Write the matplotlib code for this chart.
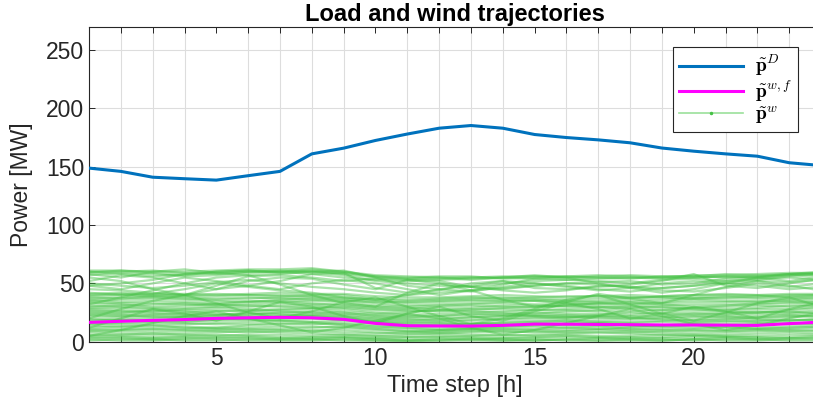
import numpy as np
import matplotlib
matplotlib.use("Agg")
import matplotlib.pyplot as plt
from matplotlib.lines import Line2D

plt.rcParams["font.family"] = ["Liberation Sans", "DejaVu Sans"]
plt.rcParams["mathtext.fontset"] = "cm"

# ---------- DATA ----------
hours = list(range(1, 25))

load = [148.8, 146, 141, 139.7, 138.5, 142.3, 146, 161, 165.9, 172.5, 178, 183,
        185.3, 183, 177.6, 175, 173, 170.5, 166, 163.3, 161, 159, 153.4, 151]

wind_forecast = [16.6, 17.5, 18.3, 19, 20, 20.5, 20.9, 20.5, 19.2, 15.7, 13.7, 13.5,
                 13.4, 14, 15.1, 15, 14.8, 14.6, 14.4, 14.3, 14.2, 14, 15.5, 16.8]

# wind scenarios (approximate)
wind_scenarios = [
    [61, 61, 60, 60, 61, 62, 62, 63, 60, 57, 56, 55, 55, 56, 56, 56, 55, 55, 55, 55, 56, 56, 57, 58],
    [60, 58, 56, 58, 59, 60, 60, 61, 58, 55, 54, 54, 55, 55, 56, 55, 55, 54, 56, 56, 55, 56, 58, 58],
    [58, 55, 60, 62, 59, 57, 58, 60, 57, 52, 50, 48, 47, 50, 52, 53, 52, 50, 53, 54, 52, 53, 56, 57],
    [55, 52, 45, 40, 48, 56, 57, 55, 52, 54, 53, 52, 47, 45, 48, 50, 51, 52, 49, 50, 54, 55, 52, 56],
    [52, 57, 55, 50, 45, 48, 52, 58, 59, 46, 42, 44, 50, 52, 46, 45, 47, 49, 52, 58, 48, 46, 50, 54],
    [48, 50, 53, 58, 60, 61, 59, 60, 61, 55, 48, 45, 43, 47, 50, 48, 45, 43, 46, 48, 52, 54, 55, 53],
    [45, 44, 42, 40, 45, 52, 55, 54, 49, 45, 53, 50, 47, 44, 42, 44, 48, 47, 44, 43, 46, 50, 47, 50],
    [42, 40, 41, 45, 50, 47, 44, 42, 38, 36, 40, 45, 48, 52, 50, 47, 44, 46, 50, 52, 50, 48, 45, 47],
    [40, 41, 40, 40, 41, 40, 39, 40, 40, 37, 36, 37, 38, 37, 38, 39, 39, 38, 38, 37, 38, 39, 40, 40],
    [38, 37, 39, 38, 37, 38, 37, 36, 35, 34, 34, 35, 36, 36, 35, 34, 35, 37, 39, 40, 41, 40, 38, 39],
    [35, 36, 37, 36, 35, 34, 36, 37, 36, 33, 31, 32, 33, 34, 35, 33, 32, 33, 34, 36, 35, 34, 36, 37],
    [33, 32, 30, 31, 32, 34, 35, 33, 31, 29, 28, 30, 31, 30, 29, 31, 33, 34, 32, 30, 31, 33, 34, 33],
    [30, 31, 32, 33, 32, 31, 30, 29, 30, 28, 27, 26, 27, 29, 30, 31, 30, 28, 27, 29, 30, 31, 30, 31],
    [28, 27, 26, 28, 29, 28, 27, 28, 26, 24, 25, 27, 26, 25, 24, 26, 27, 29, 30, 28, 26, 25, 27, 29],
    [26, 25, 27, 26, 24, 23, 25, 26, 25, 22, 21, 22, 23, 24, 22, 21, 23, 25, 24, 23, 24, 25, 26, 24],
    [24, 23, 22, 21, 22, 24, 23, 22, 21, 19, 18, 19, 21, 22, 23, 22, 20, 19, 20, 21, 22, 20, 21, 23],
    [22, 21, 23, 24, 23, 22, 21, 20, 19, 17, 16, 17, 18, 19, 20, 21, 22, 21, 19, 18, 19, 21, 22, 21],
    [20, 19, 18, 17, 19, 20, 21, 22, 20, 18, 17, 16, 15, 17, 18, 19, 18, 17, 18, 19, 20, 19, 18, 20],
    [18, 19, 20, 21, 20, 19, 18, 17, 18, 16, 14, 15, 16, 15, 16, 17, 16, 15, 14, 16, 17, 18, 19, 18],
    [16, 15, 14, 15, 16, 17, 18, 17, 15, 13, 12, 11, 12, 13, 14, 15, 16, 14, 13, 12, 13, 15, 16, 15],
    [14, 13, 12, 13, 12, 14, 15, 16, 14, 12, 11, 10, 11, 12, 13, 12, 11, 12, 13, 14, 13, 12, 13, 14],
    [12, 13, 14, 12, 11, 10, 11, 12, 13, 11, 9, 8, 9, 10, 11, 12, 13, 11, 10, 9, 10, 11, 12, 13],
    [10, 9, 8, 9, 10, 11, 10, 9, 8, 7, 8, 9, 10, 9, 8, 9, 10, 9, 8, 7, 8, 9, 10, 9],
    [8, 7, 6, 7, 8, 9, 8, 7, 6, 5, 6, 7, 6, 5, 6, 7, 8, 7, 6, 5, 6, 7, 8, 7],
    [6, 5, 4, 5, 6, 5, 4, 3, 4, 3, 4, 5, 4, 3, 4, 5, 4, 3, 4, 5, 4, 3, 4, 5],
    [4, 3, 2, 3, 4, 3, 2, 2, 3, 2, 1, 2, 3, 2, 1, 2, 3, 2, 1, 2, 3, 2, 3, 4],
    [2, 1, 1, 2, 2, 1, 1, 1, 2, 1, 1, 1, 2, 1, 1, 2, 1, 1, 1, 2, 1, 1, 2, 2],
    [32, 38, 44, 50, 55, 57, 49, 40, 33, 30, 42, 50, 44, 36, 30, 34, 41, 37, 33, 40, 47, 52, 48, 44],
    [12, 20, 28, 24, 18, 26, 34, 30, 22, 16, 24, 30, 22, 18, 26, 33, 28, 20, 24, 30, 26, 20, 28, 34],
    [48, 45, 50, 55, 52, 48, 45, 50, 53, 50, 45, 40, 44, 49, 54, 55, 50, 46, 42, 45, 50, 55, 58, 59],
    [57, 59, 58, 56, 57, 59, 60, 58, 55, 53, 52, 53, 54, 55, 54, 53, 54, 55, 54, 55, 56, 55, 57, 58],
    [50, 48, 46, 48, 51, 53, 50, 47, 45, 42, 40, 42, 44, 46, 48, 50, 49, 47, 46, 48, 50, 52, 51, 53],
    [60, 60, 61, 59, 58, 60, 61, 60, 59, 56, 55, 56, 56, 54, 55, 56, 57, 56, 55, 57, 57, 58, 59, 59],
    [59, 61, 59, 57, 60, 61, 60, 62, 60, 56, 54, 55, 53, 55, 57, 55, 56, 57, 56, 56, 58, 57, 58, 60],
    [41, 42, 41, 41, 40, 41, 42, 41, 41, 39, 38, 38, 39, 40, 39, 38, 39, 40, 39, 40, 40, 40, 41, 41],
    [39, 40, 39, 39, 39, 40, 40, 39, 38, 36, 35, 36, 37, 38, 37, 36, 37, 38, 38, 38, 39, 38, 39, 40],
    [37, 38, 38, 37, 36, 37, 38, 38, 37, 35, 33, 34, 35, 35, 36, 35, 34, 35, 36, 37, 37, 37, 37, 38],
    [36, 34, 35, 34, 33, 35, 34, 35, 34, 31, 30, 31, 32, 33, 32, 32, 33, 32, 33, 34, 34, 35, 35, 35],
    [34, 33, 33, 32, 31, 32, 33, 32, 32, 30, 29, 28, 29, 31, 31, 30, 30, 31, 31, 32, 32, 32, 33, 34],
    [31, 30, 29, 29, 30, 30, 31, 31, 29, 27, 26, 27, 28, 28, 27, 28, 29, 30, 29, 29, 28, 29, 31, 32],
    [29, 29, 28, 27, 27, 26, 28, 29, 28, 25, 23, 24, 25, 26, 27, 27, 26, 26, 27, 27, 27, 28, 28, 30],
    [27, 26, 25, 25, 26, 27, 26, 25, 24, 23, 22, 22, 24, 23, 25, 24, 24, 23, 25, 25, 25, 26, 25, 27],
    [25, 24, 24, 23, 23, 25, 24, 24, 23, 21, 20, 20, 21, 22, 22, 23, 22, 22, 22, 24, 23, 24, 24, 25],
    [23, 22, 21, 22, 21, 21, 22, 23, 22, 20, 19, 18, 19, 20, 21, 20, 21, 20, 21, 22, 21, 22, 23, 22],
    [19, 18, 17, 18, 18, 19, 19, 20, 19, 17, 15, 14, 15, 16, 17, 18, 17, 16, 17, 17, 18, 17, 18, 19],
    [15, 16, 16, 16, 15, 15, 16, 15, 16, 14, 13, 13, 13, 14, 15, 14, 14, 13, 14, 15, 15, 16, 15, 16],
    [11, 11, 10, 11, 12, 12, 13, 13, 12, 10, 9, 10, 11, 11, 10, 10, 11, 10, 11, 11, 12, 11, 11, 12],
    [9, 10, 11, 10, 9, 8, 9, 10, 10, 8, 7, 7, 8, 8, 9, 8, 8, 8, 9, 10, 9, 10, 9, 10],
    [5, 6, 7, 6, 5, 6, 6, 5, 6, 5, 4, 4, 5, 6, 5, 6, 5, 5, 6, 6, 5, 5, 6, 6],
    [3, 4, 3, 4, 3, 4, 3, 4, 4, 3, 2, 3, 2, 3, 3, 4, 3, 4, 3, 3, 4, 4, 3, 3],
    [1, 2, 2, 1, 1, 2, 2, 2, 1, 1, 0.5, 1, 1, 1, 2, 1, 1, 2, 2, 1, 2, 2, 1, 1],
    [20, 28, 35, 40, 33, 25, 20, 26, 34, 38, 30, 22, 15, 20, 28, 36, 40, 32, 24, 18, 25, 33, 38, 30],
    [5, 10, 16, 22, 26, 20, 14, 8, 12, 18, 24, 20, 12, 6, 10, 16, 22, 28, 22, 15, 10, 14, 20, 25],
]

# ---------- PLOT ----------
fig = plt.figure(figsize=(8.13, 4.12), dpi=100)
ax = fig.add_axes([0.1095, 0.1706, 0.9004, 0.7646])

green = "#45c145"
for s in wind_scenarios:
    ax.plot(hours, s, color=green, alpha=0.45, lw=1.6, zorder=2)

l_load, = ax.plot(hours, load, color="#0072BD", lw=2.2, zorder=4)
l_fc, = ax.plot(hours, wind_forecast, color="#FF00FF", lw=2.2, zorder=4)
l_w = Line2D([], [], color="#9be09b", lw=1.2, marker=".", markersize=3,
             markevery=[1], markerfacecolor="#45c145", markeredgecolor="#45c145")

ax.set_xlim(1, 24)
ax.set_ylim(0, 270)
ax.set_xticks([5, 10, 15, 20])
ax.set_xticks(range(1, 25), minor=True)
ax.set_yticks([0, 50, 100, 150, 200, 250])
ax.grid(True, which="major", axis="y", color="#dddddd", lw=0.8)
ax.grid(True, which="minor", axis="x", color="#dddddd", lw=0.8)
ax.set_axisbelow(True)
ax.tick_params(which="both", direction="in", top=True, right=True,
               labelsize=16.5, colors="#262626", length=4, width=0.7)
for sp in ax.spines.values():
    sp.set_color("#262626")
    sp.set_linewidth(0.8)

ax.set_title("Load and wind trajectories", fontsize=17, fontweight="bold", pad=4)
ax.set_xlabel("Time step [h]", fontsize=17, color="#262626")
ax.set_ylabel("Power [MW]", fontsize=16.5, color="#262626", labelpad=9)

leg = ax.legend([l_load, l_fc, l_w],
                [r"$\tilde{\mathbf{p}}^{D}$", r"$\tilde{\mathbf{p}}^{w,f}$", r"$\tilde{\mathbf{p}}^{w}$"],
                loc="upper right", bbox_to_anchor=(0.9686, 0.9346), fontsize=14,
                fancybox=False, framealpha=1, edgecolor="#262626", handlelength=3.3,
                borderpad=0.3, labelspacing=0.02, borderaxespad=0, handletextpad=0.6)
leg.get_frame().set_linewidth(0.8)

fig.savefig("out.png", dpi=100)
